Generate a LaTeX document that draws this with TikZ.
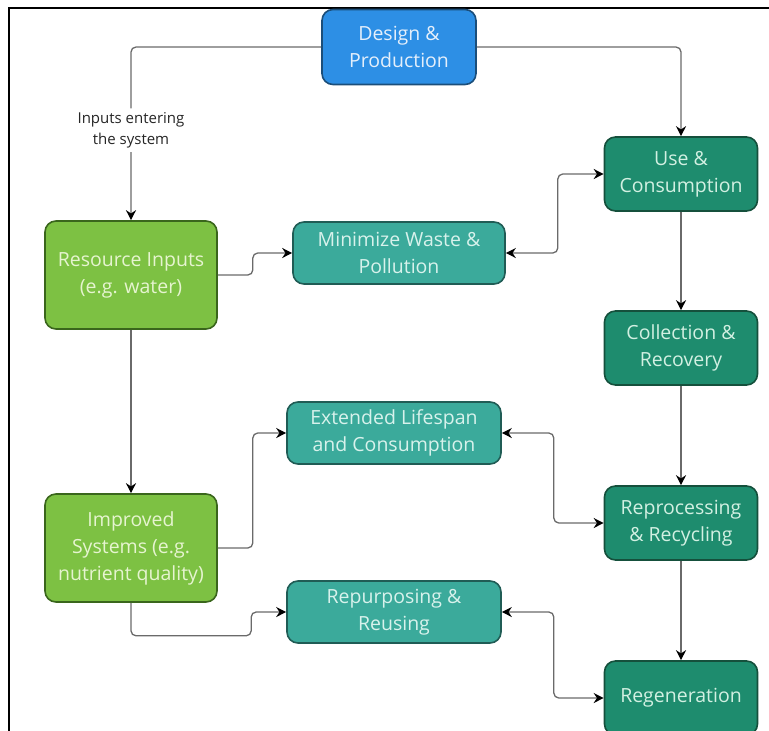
\documentclass[tikz,border=0pt]{standalone}
\usepackage{fontspec}
\setmainfont{Open Sans}
\usetikzlibrary{arrows.meta,calc}
\definecolor{blueFill}{HTML}{2D8FE5}
\definecolor{blueLine}{HTML}{1B4E7A}
\definecolor{blueText}{HTML}{E4EFFB}
\definecolor{darkFill}{HTML}{1E8C6E}
\definecolor{darkLine}{HTML}{15503C}
\definecolor{darkText}{HTML}{D2F0E2}
\definecolor{limeFill}{HTML}{7DC143}
\definecolor{limeLine}{HTML}{3A661C}
\definecolor{limeText}{HTML}{E6F4D0}
\definecolor{tealFill}{HTML}{3BAA9B}
\definecolor{tealLine}{HTML}{205C55}
\definecolor{tealText}{HTML}{D8F2EC}
\definecolor{linkGrey}{HTML}{6A6A6A}
\tikzset{
    box/.style={draw, line width=1.6pt, rounded corners=11pt, align=center,
        inner sep=2pt, font=\fontsize{19.5}{27}\selectfont},
    bluebox/.style={box, fill=blueFill, draw=blueLine, text=blueText,
        minimum width=154pt, minimum height=75pt},
    darkbox/.style={box, fill=darkFill, draw=darkLine, text=darkText,
        minimum width=153pt, minimum height=74pt},
    limebox/.style={box, fill=limeFill, draw=limeLine, text=limeText,
        minimum width=172pt, minimum height=108pt},
    tealbox/.style={box, fill=tealFill, draw=tealLine, text=tealText,
        minimum width=213pt, minimum height=62pt},
    link/.style={draw=linkGrey, line width=1.3pt, rounded corners=5pt},
    linklabel/.style={fill=white, align=center, inner sep=4pt, text=black!85,
        font=\fontsize{15}{21}\selectfont}
}
\begin{document}
\begin{tikzpicture}[x=1pt, y=-1pt, >={Stealth[length=10pt,width=10pt,color=black]}]
                \useasboundingbox (0,0) rectangle (769,731);
                \clip (0,0) rectangle (769,731);
                \draw[line width=2pt] (9,731) -- (9,8) -- (769,8);
                \node[bluebox] (design) at (399,47) {Design \&\\Production};
                \node[darkbox] (use) at (681,174) {Use \&\\Consumption};
                \node[darkbox] (collection) at (681,348) {Collection \&\\Recovery};
                \node[darkbox] (reprocessing) at (681,523) {Reprocessing\\\& Recycling};
                \node[darkbox] (regeneration) at (681,698) {Regeneration};
                \node[limebox] (resource) at (131,275) {Resource Inputs\\(e.g. water)};
                \node[limebox] (improved) at (131,548) {Improved\\Systems (e.g.\\nutrient quality)};
                \node[tealbox, minimum width=212pt] (minimize) at (399,253) {Minimize Waste \&\\Pollution};
                \node[tealbox, minimum width=214pt] (extended) at (394,433) {Extended Lifespan\\and Consumption};
                \node[tealbox, minimum width=214pt] (repurposing) at (394,612) {Repurposing \&\\Reusing};
                \draw[link,->] (design.west) -| (resource.north)
                    node[linklabel, pos=0.74] (inputs) {Inputs entering\\the system};
                \draw[link,->] (design.east) -| (use.north);
                \draw[link,->] (resource.east) -- ++(35,0) |- (minimize.west);
                \draw[link,<->] (minimize.east) -- ++(52,0) |- (use.west);
                \draw[link,->] (use) -- (collection);
                \draw[link,->] (collection) -- (reprocessing);
                \draw[link,->] (reprocessing) -- (regeneration);
                \draw[link,->] (resource) -- (improved);
                \draw[link,->] (improved.east) -- ++(35,0) |- (extended.west);
                \draw[link,<->] (extended.east) -- ++(52,0) |- (reprocessing.west);
                \draw[link,->] (improved.south) -- ++(0,33) -| ($(repurposing.west)+(-35,0)$) -- (repurposing.west);
                \draw[link,<->] (repurposing.east) -- ++(52,0) |- (regeneration.west);
\end{tikzpicture}
\end{document}
